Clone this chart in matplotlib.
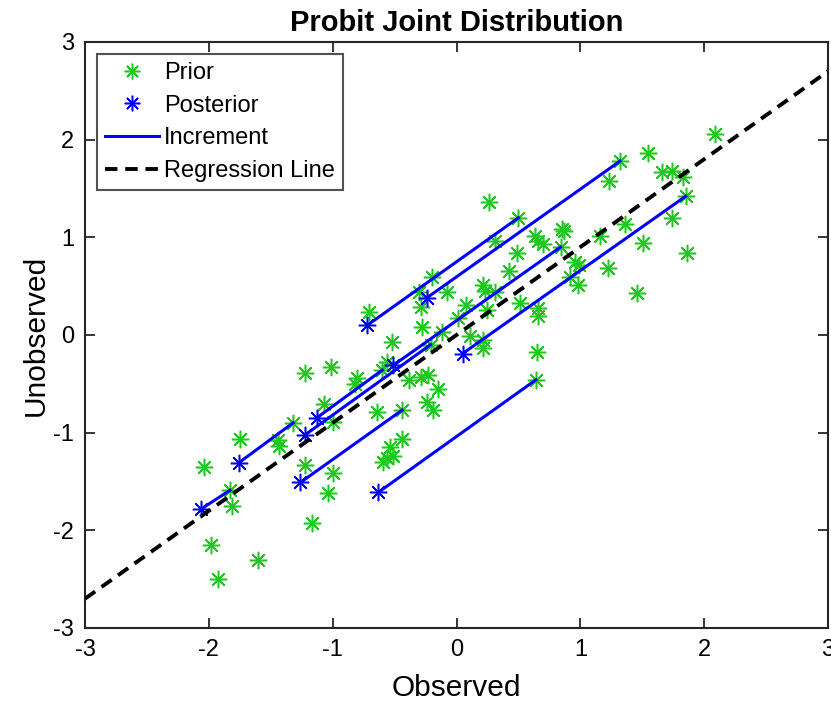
import matplotlib
matplotlib.use("Agg")
import matplotlib.pyplot as plt
import numpy as np

plt.rcParams['font.family'] = ['Liberation Sans', 'DejaVu Sans']
plt.rcParams['axes.unicode_minus'] = False

# Prior ensemble (observed, unobserved)
prior_x = [-2.04, -1.75, -1.83, -1.81, -1.98, -1.60, -1.93, -1.32, -1.44, -1.43,
           -1.22, -1.00, -1.04, -1.17, -1.22, -1.01, -1.07, -1.00, -0.80, -0.82,
           -0.64, -0.44, -0.44, -0.54, -0.59, -0.56, -0.51, -0.38, -0.29, -0.23,
           -0.15, -0.24, -0.19, 0.64, 0.65, -0.52, -0.56, -0.60, -0.71, -0.29,
           -0.28, -0.12, 0.08, 0.25, 0.11, 0.21, 0.21, -0.20, -0.30, -0.08,
           0.01, 0.21, 0.23, 0.31, 0.42, 0.49, 0.51, 0.66, 0.66, 0.26,
           0.50, 0.31, 0.63, 0.66, 0.70, 0.85, 0.87, 0.84, 1.16, 0.96,
           0.99, 0.92, 0.98, 1.22, 1.32, 1.55, 2.09, 1.66, 1.74, 1.83,
           1.23, 1.85, 1.74, 1.36, 1.51, 1.86, 1.46, -0.21]
prior_y = [-1.35, -1.06, -1.59, -1.75, -2.15, -2.30, -2.50, -0.90, -1.08, -1.14,
           -1.33, -1.41, -1.62, -1.93, -0.39, -0.33, -0.71, -0.89, -0.44, -0.50,
           -0.79, -0.77, -1.06, -1.15, -1.30, -1.26, -1.24, -0.46, -0.43, -0.41,
           -0.55, -0.69, -0.77, -0.46, -0.17, -0.07, -0.28, -0.36, 0.24, 0.29,
           0.08, 0.03, 0.31, 0.26, -0.01, -0.05, -0.13, 0.59, 0.44, 0.44,
           0.17, 0.51, 0.45, 0.44, 0.65, 0.84, 0.33, 0.28, 0.19, 1.36,
           1.20, 0.96, 1.01, 0.96, 0.93, 1.09, 1.06, 0.90, 1.01, 0.75,
           0.72, 0.59, 0.51, 0.69, 1.78, 1.86, 2.06, 1.67, 1.68, 1.62,
           1.58, 1.42, 1.20, 1.14, 0.94, 0.84, 0.43, -0.10]

# Posterior members and the prior members they came from
post_x = [-2.06, -1.76, -1.26, -1.22, -1.13, -0.63, -0.72, -0.24, -0.51, 0.05]
post_y = [-1.78, -1.31, -1.51, -1.02, -0.85, -1.61, 0.10, 0.38, -0.31, -0.19]
inc_prior_x = [-1.83, -1.32, -0.44, -0.21, -0.60, 0.64, 0.50, 1.32, 0.84, 1.85]
inc_prior_y = [-1.59, -0.90, -0.77, -0.10, -0.36, -0.46, 1.20, 1.78, 0.90, 1.42]

# Regression line
reg_slope = 0.9
reg_x = [-3, 3]

fig = plt.figure(figsize=(8.31, 7.03), dpi=100)
ax = fig.add_axes([0.1023, 0.1067, 0.8941, 0.8336])

ast = (8, 2, 0)
green = '#1ec81e'
ax.plot(prior_x, prior_y, linestyle='none', marker=ast, color=green,
        markersize=12.5, markeredgewidth=1.1, label='Prior', zorder=2)
ax.plot(post_x, post_y, linestyle='none', marker=ast, color='#0000ff',
        markersize=12.5, markeredgewidth=1.1, label='Posterior', zorder=3)
for i in range(len(post_x)):
    ax.plot([post_x[i], inc_prior_x[i]], [post_y[i], inc_prior_y[i]],
            color='#0000ff', linewidth=2.2, zorder=4,
            label='Increment' if i == 0 else None)
rx = np.array(reg_x, dtype=float)
ax.plot(rx, reg_slope * rx, color='black', linestyle=(0, (3.2, 2.0)),
        linewidth=2.8, label='Regression Line', zorder=5)

ax.set_xlim(-3, 3)
ax.set_ylim(-3, 3)
ax.set_xticks([-3, -2, -1, 0, 1, 2, 3])
ax.set_yticks([-3, -2, -1, 0, 1, 2, 3])
ax.tick_params(direction='in', length=7, width=1.3, labelsize=17,
               top=True, right=True, colors='#262626', pad=8)
for tl in ax.get_xticklabels() + ax.get_yticklabels():
    tl.set_color('black')
for s in ax.spines.values():
    s.set_linewidth(1.5)
    s.set_color('#262626')

ax.set_title('Probit Joint Distribution', fontsize=21, fontweight='bold', pad=8)
ax.set_xlabel('Observed', fontsize=21.5, labelpad=9)
ax.set_ylabel('Unobserved', fontsize=21.5, labelpad=2)

leg = ax.legend(loc='upper left', fontsize=17, frameon=True, fancybox=False,
                edgecolor='#262626', handlelength=2.3, handletextpad=0.2,
                borderaxespad=0.5, labelspacing=0.45, borderpad=0.35,
                markerscale=0.9)
leg.get_frame().set_linewidth(1.5)

fig.savefig('out.png', dpi=100)
